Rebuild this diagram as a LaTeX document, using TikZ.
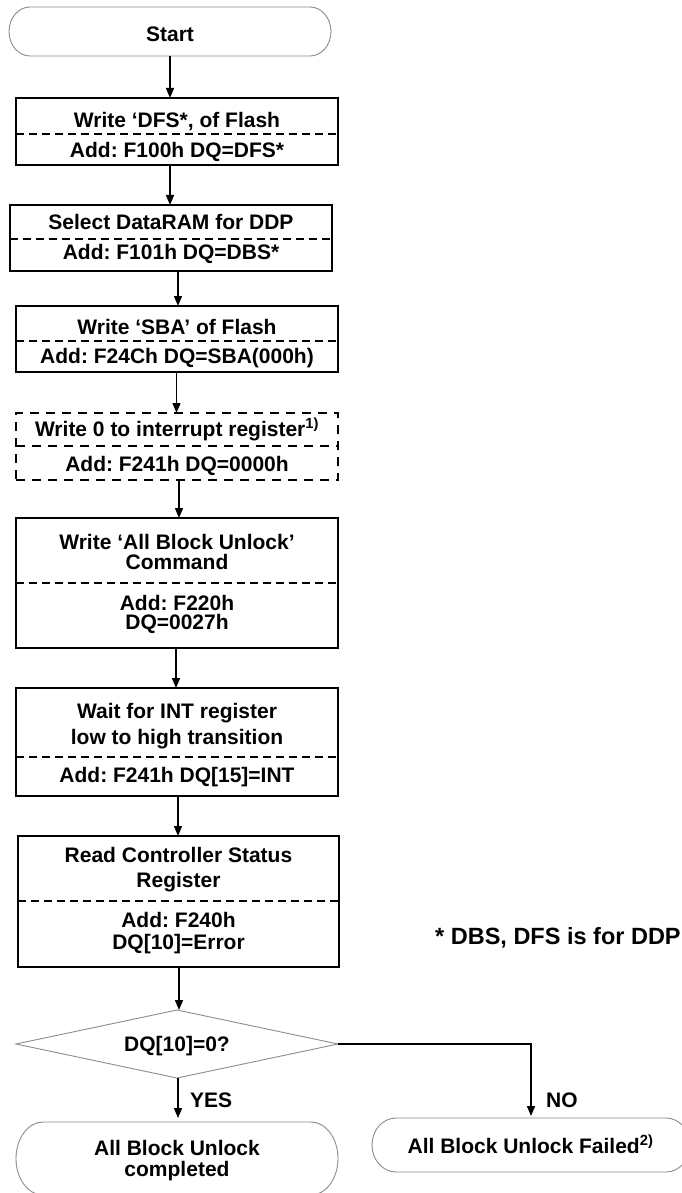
\documentclass[tikz,border=0pt]{standalone}
\usepackage{fontspec}
\setmainfont{Liberation Sans}
\usetikzlibrary{arrows.meta}
\frenchspacing
\begin{document}
\begin{tikzpicture}[x=1pt,y=-1pt,
  box/.style={draw=black, line width=1.6pt, minimum width=322pt, inner sep=0pt, outer sep=0pt},
  dbox/.style={box, dash pattern=on 9pt off 7pt},
  ghost/.style={draw=none, minimum width=322pt, inner sep=0pt, outer sep=0pt},
  termline/.style={draw=black!45, line width=0.9pt},
  sep/.style={line width=1.1pt, dash pattern=on 8pt off 5pt},
  dsep/.style={line width=1.6pt, dash pattern=on 9pt off 7pt},
  arr/.style={line width=1.4pt, -{Triangle[length=10pt,width=8pt]}},
  txt/.style={anchor=base, inner sep=0pt, font=\fontsize{21}{24}\selectfont\bfseries},
  lbl/.style={anchor=base west, inner sep=0pt, font=\fontsize{21}{24}\selectfont\bfseries},
]
\useasboundingbox (0,0) rectangle (682,1193);
\fill[white] (0,0) rectangle (682,1193);
\clip (0,0) rectangle (682,1193);

% Start
\node[ghost, minimum height=49pt] (start) at (170,31.5) {};
\draw[termline] ([xshift=21pt]start.north west) -- ([xshift=-21pt]start.north east)
  arc[start angle=90,end angle=-90,x radius=21pt,y radius=24.5pt]
  -- ([xshift=21pt]start.south west)
  arc[start angle=270,end angle=90,x radius=21pt,y radius=24.5pt] -- cycle;
\node[txt] (startt) at (170,41.5) {Start};

% Box 1
\node[box, minimum height=67pt] (b1) at (177,131.5) {};
\draw[sep] (b1.west |- 0,134) -- (b1.east |- 0,134);
\node[txt] (b1a) at (177,127.5) {Write ‘DFS*, of Flash};
\node[txt] (b1b) at (177,157.5) {Add: F100h DQ=DFS*};

% Box 2
\node[box, minimum height=66pt] (b2) at (171,238) {};
\draw[sep] (b2.west |- 0,239) -- (b2.east |- 0,239);
\node[txt] (b2a) at (171,229.5) {Select DataRAM for DDP};
\node[txt] (b2b) at (171,259.5) {Add: F101h DQ=DBS*};

% Box 3
\node[box, minimum height=66pt] (b3) at (177,339) {};
\draw[sep] (b3.west |- 0,341) -- (b3.east |- 0,341);
\node[txt] (b3a) at (177,334.5) {Write ‘SBA’ of Flash};
\node[txt] (b3b) at (177,363.5) {Add: F24Ch DQ=SBA(000h)};

% Box 4 (dashed)
\node[dbox, minimum height=67pt] (b4) at (177,446.5) {};
\draw[dsep] (b4.west |- 0,446) -- (b4.east |- 0,446);
\node[txt] (b4a) at (177,436.5) {Write 0 to interrupt register\textsuperscript{1)}};
\node[txt] (b4b) at (177,471.5) {Add: F241h DQ=0000h};

% Box 5
\node[box, minimum height=130pt] (b5) at (177,583) {};
\draw[sep] (b5.west |- 0,583) -- (b5.east |- 0,583);
\node[txt] (b5a) at (177,549) {Write ‘All Block Unlock’};
\node[txt] (b5b) at (177,569) {Command};
\node[txt] (b5c) at (177,610) {Add: F220h};
\node[txt] (b5d) at (177,629) {DQ=0027h};

% Box 6
\node[box, minimum height=108pt] (b6) at (177,742) {};
\draw[sep] (b6.west |- 0,757) -- (b6.east |- 0,757);
\node[txt] (b6a) at (177,718) {Wait for INT register};
\node[txt] (b6b) at (177,744) {low to high transition};
\node[txt] (b6c) at (177,782) {Add: F241h DQ[15]=INT};

% Box 7
\node[box, minimum width=321pt, minimum height=131pt] (b7) at (178.5,901.5) {};
\draw[sep] (b7.west |- 0,901) -- (b7.east |- 0,901);
\node[txt] (b7a) at (178.5,862.5) {Read Controller Status};
\node[txt] (b7b) at (178.5,887.5) {Register};
\node[txt] (b7c) at (178.5,927.5) {Add: F240h};
\node[txt] (b7d) at (178.5,949.5) {DQ[10]=Error};

% Footnote
\node[lbl, font=\fontsize{23.5}{26}\selectfont\bfseries] (note) at (435,944) {* DBS, DFS is for DDP};

% Decision
\node[ghost, minimum height=68pt] (dq) at (177,1044) {};
\draw[termline] (dq.north) -- (dq.east) -- (dq.south) -- (dq.west) -- cycle;
\node[txt] (dqt) at (177,1051.5) {DQ[10]=0?};

% Completed terminal
\node[ghost, minimum height=73pt] (done) at (177,1158.5) {};
\draw[termline] ([xshift=27pt]done.north west) -- ([xshift=-27pt]done.north east)
  arc[start angle=90,end angle=-90,x radius=27pt,y radius=36.5pt]
  -- ([xshift=27pt]done.south west)
  arc[start angle=270,end angle=90,x radius=27pt,y radius=36.5pt] -- cycle;
\node[txt] (donea) at (177,1155.5) {All Block Unlock};
\node[txt] (doneb) at (177,1176.5) {completed};

% Failed terminal
\node[ghost, minimum width=318pt, minimum height=54pt] (fail) at (531,1145) {};
\draw[termline] ([xshift=24pt]fail.north west) -- ([xshift=-24pt]fail.north east)
  arc[start angle=90,end angle=-90,x radius=24pt,y radius=27pt]
  -- ([xshift=24pt]fail.south west)
  arc[start angle=270,end angle=90,x radius=24pt,y radius=27pt] -- cycle;
\node[txt] (failt) at (530.5,1153) {All Block Unlock Failed\textsuperscript{2)}};

% Labels
\node[lbl] (yes) at (190,1107) {YES};
\node[lbl] (no) at (546,1107.5) {NO};

% Connectors
\draw[arr] (start.south) -- ([xshift=-7pt]b1.north);
\draw[arr] ([xshift=-7pt]b1.south) -- ([xshift=-1pt]b2.north);
\draw[arr] ([xshift=7pt]b2.south) -- ([xshift=1pt]b3.north);
\draw[arr] ([xshift=-0.5pt]b3.south) -- ([xshift=-0.5pt]b4.north);
\draw[arr] ([xshift=2pt]b4.south) -- ([xshift=2pt]b5.north);
\draw[arr] ([xshift=-1pt]b5.south) -- ([xshift=-1pt]b6.north);
\draw[arr] ([xshift=1pt]b6.south) -- ([xshift=-0.5pt]b7.north);
\draw[arr] ([xshift=0.5pt]b7.south) -- ([xshift=2pt]dq.north);
\draw[arr, shorten >=4pt] ([xshift=1pt]dq.south) -- ([xshift=1pt]done.north);
\draw[arr, shorten >=2pt] (dq.east) -| (fail.north);
\end{tikzpicture}
\end{document}
